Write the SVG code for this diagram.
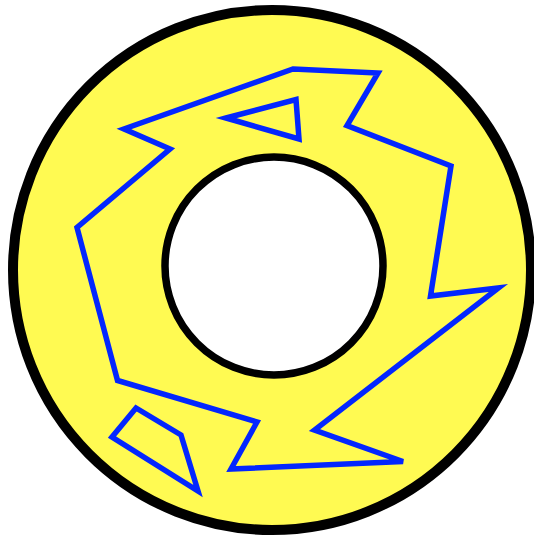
<svg xmlns="http://www.w3.org/2000/svg" width="534" height="537" viewBox="0 0 534 537">
<style>
.ring{fill:#fffa52;stroke:#000;stroke-width:10}
.hole{fill:#fff;stroke:#000;stroke-width:7.5}
.blue{fill:none;stroke:#0326ff;stroke-width:5.5}
</style>
<rect width="534" height="537" fill="#fff"/>
<g id="ring"><ellipse class="ring" cx="272" cy="270" rx="259" ry="260"/></g>
<g id="hole"><circle class="hole" cx="274" cy="266" r="109"/></g>
<g id="shapes">
<polygon class="blue" points="293,69 378,73 347,125.5 451,166 430.5,296 498.5,288 314.5,430 403,461.5 231,469 257,422 117.5,380.5 77,227.5 170,149 124,129"/>
<polygon class="blue" points="226,118 296,99.5 299,139"/>
<polygon class="blue" points="112,437 136,408 181,435 198,491"/>
</g>
</svg>
